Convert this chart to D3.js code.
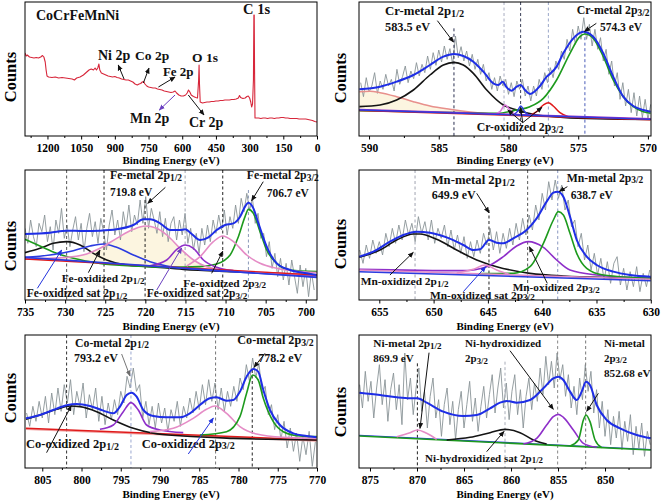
<!DOCTYPE html>
<html><head><meta charset="utf-8">
<script src="https://cdn.jsdelivr.net/npm/d3@7"></script>
<style>body{margin:0;background:#fff}svg{display:block}</style>
</head><body><svg id="c" width="661" height="503"></svg>
<script>
// ---------------- DATA ----------------
// Survey spectrum [binding energy eV, counts]
const surveyData = [[1300,83],[1295,80],[1290,81],[1280,79],[1270,78.5],[1260,78],[1250,78.5],[1240,78],[1230,79],[1222,80.5],[1216,79],[1210,74],[1206,66],[1202,60],[1195,59],[1180,58.5],[1165,59],[1150,58],[1135,58.5],[1120,58],[1105,57.5],[1090,57],[1080,56],[1070,58],[1055,59],[1040,61],[1025,64],[1015,66],[1005,67],[995,66],[988,68],[982,66],[976,68],[971,72],[967,66],[960,63],[950,62],[940,61],[930,60],[920,59.5],[910,59],[900,59.5],[890,58.5],[880,58],[870,57],[860,56.5],[850,56],[840,56],[830,55],[820,54],[810,52],[800,51],[792,52],[785,52.5],[778,54],[772,54.5],[766,52],[758,50],[750,49],[740,48.5],[730,48],[720,48],[710,47],[700,46.5],[690,46],[680,45],[670,44.5],[660,44],[650,43.5],[640,44],[632,45],[625,43],[615,41],[605,40],[595,40],[585,41],[578,43],[572,46],[566,44],[560,41],[550,39.5],[540,38.5],[532,38],[527,56],[525,71],[523,51],[520,34],[510,33],[500,33.5],[490,34],[480,34],[470,34.5],[460,34.5],[450,35],[440,35],[430,35.5],[420,35.5],[410,36],[400,36],[390,36],[380,36.5],[370,36.5],[360,37],[350,38],[345,40.5],[340,38.5],[330,37.5],[320,38],[312,39.5],[306,40],[300,38],[295,34],[291,29],[287,32],[283,56],[281,121],[279.5,121],[278,66],[276,18],[270,18],[260,18],[250,17.5],[240,18],[230,18],[220,17.5],[210,18],[200,18],[190,17.5],[180,18],[170,18],[160,18.5],[150,18.5],[140,18],[130,18],[120,17.5],[110,17.5],[100,17.5],[90,17.5],[80,17],[70,17],[60,17],[50,17],[40,16.5],[30,16],[20,15.5],[10,14.5],[0,14]];
const surveyTicks = [1200,1050,900,750,600,450,300,150,0];
const surveyMinor = [1275,1125,975,825,675,525,375,225,75];

// Cr 2p
const crRawStart = 590.6, crRawStep = 0.2;
const crRaw = [160,118,175,132,150,190,128,165,140,185,
 150,170,135,200,155,178,210,160,195,172,
 220,180,215,190,240,200,250,212,258,222,
 270,230,262,215,300,235,268,225,255,210,
 245,200,230,185,215,165,190,140,175,135,
 180,150,170,125,160,118,165,140,170,120,
 150,105,150,120,170,140,190,160,205,175,
 225,200,255,230,290,255,320,275,330,290,
 355,290,335,270,320,260,295,225,260,185,
 225,150,190,110,160,90,140,70,130,60,
 120,55,110,50,95];
const crEnvelope = [[590.69,140],[589.21,148],[588.02,163],[586.82,183],[585.63,213],[584.67,238],[583.91,246],[583.24,240],[582.52,223],[581.80,193],[581.09,158],[580.73,153],[580.42,163],[580.13,146],[579.77,136],[579.41,148],[579.13,153],[578.82,138],[578.46,126],[577.74,150],[577.26,178],[577.03,186],[576.55,208],[576.07,248],[575.35,293],[574.64,313],[573.92,298],[573.20,248],[572.49,178],[571.77,118],[571.05,90],[570.33,78],[569.81,73]];
const crMetal12 = [[590.69,88],[589.21,93],[588.02,108],[586.82,138],[585.63,183],[584.67,213],[583.91,221],[583.24,213],[582.52,188],[581.56,138],[580.37,93],[579.41,78],[577.98,63],[576.07,56],[573.68,52],[569.81,50]];
const crMetal32 = [[590.69,76],[585.63,72],[580.85,68],[579.41,78],[578.46,88],[577.50,113],[576.55,168],[575.59,248],[574.88,298],[574.52,306],[573.92,293],[573.20,238],[572.49,168],[571.77,118],[571.05,88],[570.33,73],[569.81,68]];
const crSat = [[590.69,133],[589.93,134],[589.21,130],[588.02,118],[586.82,103],[585.63,90],[584.20,80],[582.76,72],[580.85,65],[578.46,61],[576.07,58],[569.81,50]];
const crOxA = [[580.97,65],[580.61,73],[580.25,93],[579.89,78],[579.53,63]];
const crOxB = [[579.65,63],[579.37,73],[579.13,90],[578.82,72],[578.50,62]];
const crOxC = [[578.46,62],[577.98,73],[577.50,93],[577.14,100],[576.79,90],[576.31,70],[575.71,58]];
const crBackground = [[590.69,78],[569.81,50]];
const crPeakLines = [583.91,580.32,579.13,577.14,574.52];
const crPeakTops = [323,402,402,402,313];
const crTicks = [590,585,580,575,570];
const crMinor = [587.5,582.5,577.5,572.5];

// Fe 2p
const feRawStart = 735.0, feRawStep = 0.35;
const feRaw = [215,170,240,190,160,230,205,255,175,220,
 150,240,200,275,185,225,160,210,250,180,
 230,145,215,260,190,235,170,245,205,150,
 225,270,195,240,180,265,215,285,205,255,
 225,300,230,310,215,275,240,200,265,190,
 245,175,230,250,180,240,195,260,170,215,
 150,200,140,215,165,225,175,240,200,255,
 210,270,195,250,215,285,230,305,265,320,
 270,305,230,260,185,200,130,175,95,140,
 70,125,60,110,45,120,70,20,105,40,
 95,10,85,30];
const feEnvelope = [[735.0,198],[731.88,202],[729.81,208],[727.72,207],[725.65,208],[723.57,212],[721.49,225],[720.24,242],[719.41,242],[718.16,230],[716.92,210],[715.66,210],[715.04,212],[714.21,198],[713.18,180],[712.14,188],[711.10,210],[710.06,225],[709.02,230],[708.19,250],[707.57,280],[707.15,292],[706.53,275],[705.90,230],[704.87,160],[703.62,110],[701.96,90],[699.88,80],[698.63,75]];
const feSat12 = [[735.0,142],[733.13,155],[731.47,170],[729.81,175],[728.14,165],[726.48,140],[724.81,120],[722.32,105],[719.41,100],[715.25,92],[709.02,85],[698.63,75]];
const feMetal32 = [[735.0,182],[733.13,162],[731.05,140],[728.97,125],[725.65,110],[721.49,102],[717.33,98],[713.18,100],[711.10,108],[709.43,135],[708.40,190],[707.57,250],[707.15,272],[706.53,260],[705.70,205],[704.87,150],[703.62,110],[701.96,90],[698.63,85]];
const feOx12 = [[735.0,128],[731.88,135],[728.97,148],[726.89,162],[725.23,168],[723.57,158],[721.49,135],[719.41,115],[717.33,102],[713.18,92],[709.02,85],[698.63,72]];
const feMetal12 = [[735.0,123],[729.81,128],[727.31,138],[725.65,155],[723.57,185],[721.49,212],[720.03,222],[718.58,215],[717.33,195],[715.66,155],[714.00,120],[712.35,100],[709.85,90],[704.87,82],[698.63,75]];
const feSat32 = [[719.41,103],[717.33,120],[716.08,152],[715.04,165],[714.00,155],[712.76,120],[711.10,98],[709.02,88]];
const feOx32 = [[714.84,102],[713.18,130],[711.52,175],[710.35,192],[709.02,175],[707.36,135],[705.70,110],[703.62,95],[700.71,85],[698.63,82]];
const feBackgroundA = [[735.0,128],[698.63,68]];
const feBackgroundB = [[735.0,123],[698.63,75]];
const fePeakLines = [729.81,725.15,720.03,715.04,710.35,707.15];
const fePeakTops = [390,390,300,390,390,330];
const feTicks = [735,730,725,720,715,710,705,700];
const feMinor = [732.5,727.5,722.5,717.5,712.5,707.5,702.5];

// Mn 2p
const mnRawStart = 656.8, mnRawStep = 0.3;
const mnRaw = [150,110,165,125,180,140,175,135,200,160,
 215,170,225,180,240,195,230,175,250,200,
 235,180,240,170,215,185,225,160,210,150,
 195,140,190,125,175,130,180,140,200,165,
 215,150,205,140,200,155,215,165,230,180,
 245,195,255,210,285,240,320,270,355,300,
 360,305,345,270,300,220,240,160,200,120,
 165,90,140,75,125,60,115,50,110,130,
 45,95,30,85,40,100,25,80,40,90];
const mnEnvelope = [[656.84,130],[655.55,145],[654.02,175],[652.79,195],[651.56,205],[650.33,202],[648.80,188],[647.26,165],[646.34,150],[645.73,152],[644.90,180],[644.19,172],[643.58,170],[642.66,185],[641.43,210],[640.51,245],[639.59,295],[638.97,322],[638.57,325],[638.05,310],[637.44,250],[636.82,180],[635.90,130],[634.98,105],[633.45,85],[631.91,75],[630.01,70]];
const mnOx12 = [[656.84,128],[654.94,150],[653.40,180],[651.87,198],[651.25,198],[649.72,182],[647.88,150],[646.03,120],[644.19,100],[641.12,80],[638.05,72],[630.01,65]];
const mnOx32 = [[656.84,92],[647.26,88],[645.11,100],[643.58,130],[642.35,162],[641.28,175],[639.89,158],[638.67,120],[637.44,90],[634.98,75],[630.01,65]];
const mnMetal32 = [[645.73,79],[642.66,80],[641.12,100],[639.89,170],[638.97,240],[638.51,265],[638.05,255],[637.44,200],[636.82,140],[635.90,95],[634.37,75],[630.01,65]];
const mnSat32 = [[647.88,81],[646.34,92],[645.27,105],[644.19,90],[642.96,76]];
const mnBackgroundA = [[656.84,90],[630.01,62]];
const mnBackgroundB = [[656.84,85],[630.01,58]];
const mnPeakLines = [651.71,644.90,641.34,638.57];
const mnPeakTops = [390,270,390,390];
const mnTicks = [655,650,645,640,635,630];
const mnMinor = [652.5,647.5,642.5,637.5,632.5];

// Co 2p
const coRawStart = 807.0, coRawStep = 0.4;
const coRaw = [165,125,185,140,200,150,215,135,225,160,
 240,170,250,195,265,160,230,185,255,150,
 220,175,240,140,215,130,195,145,205,160,
 230,195,275,240,300,230,250,150,200,130,
 185,120,195,135,180,110,175,140,200,125,
 185,150,210,165,230,175,250,190,265,200,
 255,175,240,170,230,185,245,200,270,235,
 310,260,330,270,315,225,245,160,190,115,
 160,85,140,60,120,50,105,20,95,40,
 110,5,80];
const coEnvelope = [[807.08,149],[805.29,159],[803.60,174],[801.90,188],[800.62,192],[798.92,186],[797.22,172],[795.95,164],[795.10,184],[794.25,219],[793.62,226],[792.98,214],[792.13,174],[790.86,156],[789.16,152],[787.46,152],[786.19,164],[784.92,189],[783.65,209],[782.79,212],[781.52,202],[780.67,204],[779.82,229],[778.97,274],[778.12,297],[777.49,289],[776.84,234],[775.99,174],[774.72,129],[773.02,104],[771.32,96],[770.05,92]];
const coOx12 = [[807.08,146],[805.29,159],[803.17,176],[801.47,186],[800.20,184],[798.07,169],[795.95,144],[793.40,119],[790.86,104],[787.04,96],[780.67,89],[770.05,84]];
const coMetal12 = [[797.65,116],[795.95,129],[794.68,169],[793.70,196],[792.77,174],[791.71,129],[790.01,114],[787.04,106]];
const coOx32 = [[791.28,109],[788.31,119],[785.77,149],[784.07,176],[783.01,186],[781.52,164],[779.82,124],[777.70,102],[774.29,92],[770.05,89]];
const coMetal32 = [[784.92,99],[781.52,109],[779.82,154],[778.97,224],[778.20,279],[777.49,264],[776.84,209],[775.57,139],[774.29,109],[772.17,96],[770.05,94]];
const coBackgroundA = [[807.08,119],[770.05,84]];
const coBackgroundB = [[807.08,116],[770.05,81]];
const coPeakLines = [801.90,793.70,782.92,778.25];
const coPeakTops = [399,399,399,294];
const coTicks = [805,800,795,790,785,780,775,770];
const coMinor = [802.5,797.5,792.5,787.5,782.5,777.5,772.5];

// Ni 2p
const niRawStart = 876.1, niRawStep = 0.3;
const niRaw = [250,180,290,200,260,150,240,310,190,265,
 140,235,285,175,250,130,345,205,270,160,
 240,300,170,230,120,215,270,150,205,95,
 190,240,130,200,85,175,230,120,190,260,
 140,210,110,185,245,150,220,280,165,240,
 300,180,255,145,230,280,160,235,120,215,
 270,175,255,200,300,220,335,250,320,240,
 345,265,310,215,280,180,245,160,270,205,
 310,230,290,165,235,120,200,95,175,70,
 155,90,170,55,140,80,160,40,125,60,
 135,35,110,70];
const niEnvelope = [[876.13,226],[873.94,219],[872.16,212],[870.74,209],[869.96,209],[868.97,196],[867.20,169],[865.07,156],[863.65,159],[862.23,179],[861.17,196],[860.46,201],[859.40,196],[857.98,204],[856.56,239],[855.50,269],[854.96,274],[854.43,264],[853.72,229],[853.01,204],[852.48,229],[852.02,259],[851.60,249],[850.89,189],[849.82,144],[848.40,119],[846.63,99],[845.14,89]];
const niMetal12 = [[872.16,94],[870.74,106],[869.96,114],[868.97,104],[867.91,86]];
const niSat12 = [[866.84,84],[864.36,92],[862.23,106],[860.64,116],[859.04,106],[857.62,84],[856.21,72]];
const niHyd32 = [[858.69,72],[857.27,89],[856.21,129],[855.50,154],[854.96,161],[854.43,152],[853.37,114],[852.30,74],[850.89,62]];
const niMetal32 = [[853.72,66],[852.84,84],[852.30,144],[852.02,159],[851.60,139],[851.06,84],[850.35,61]];
const niBackgroundA = [[876.13,96],[845.14,54]];
const niBackgroundB = [[876.13,98],[845.14,55]];
const niPeakLines = [869.96,860.64,855.04,852.06];
const niPeakTops = [314,319,399,399];
const niTicks = [875,870,865,860,855,850];
const niMinor = [872.5,867.5,862.5,857.5,852.5,847.5];

// ---------------- DRAWING ----------------
const svg = d3.select("#c");
svg.append("rect").attr("width",661).attr("height",503).attr("fill","#fff");
const defs = svg.append("defs");
const FONT = "'Liberation Serif','Times New Roman',serif";
const C = {env:"#1e2ee6", black:"#141414", green:"#1d9a1d", pink:"#e58cc6", salmon:"#e8908c",
  purple:"#8e2fc9", red:"#e01a1a", blue:"#2b3be0", raw:"#8a9497", fill:"#fcf5e0"};

function marker(id, color){
  defs.append("marker").attr("id",id).attr("viewBox","0 0 10 10").attr("refX",9).attr("refY",5)
    .attr("markerWidth",6).attr("markerHeight",6).attr("orient","auto")
    .append("path").attr("d","M0,0.8 L10,5 L0,9.2 Z").attr("fill",color);
}
marker("ah-k","#111"); marker("ah-b","#2233dd"); marker("ah-g","#6e6e6e"); marker("ah-p","#6a3fc0");

function makePanel(cfg){
  const x = d3.scaleLinear().domain(cfg.xDomain).range([cfg.left, cfg.right]);
  const y = d3.scaleLinear().domain(cfg.yDomain).range([cfg.bottom, cfg.top]);
  const id = "clip-"+cfg.id;
  defs.append("clipPath").attr("id",id).append("rect")
    .attr("x",cfg.left).attr("y",cfg.top).attr("width",cfg.right-cfg.left).attr("height",cfg.bottom-cfg.top);
  const g = svg.append("g");
  const plot = g.append("g").attr("clip-path",`url(#${id})`);
  const minor = d3.axisBottom(x).tickValues(cfg.minor).tickSize(2).tickFormat("");
  const major = d3.axisBottom(x).tickValues(cfg.ticks).tickSize(3.5).tickPadding(cfg.pad).tickFormat(d3.format("d"));
  const a1 = g.append("g").attr("transform",`translate(0,${cfg.bottom})`).call(minor);
  const a2 = g.append("g").attr("transform",`translate(0,${cfg.bottom})`).call(major);
  [a1,a2].forEach(a=>{a.select(".domain").remove(); a.selectAll("line").attr("stroke","#000");});
  a2.selectAll("text").attr("font-family",FONT).attr("font-weight","bold").attr("font-size",11.5).attr("fill","#000");
  g.append("rect").attr("x",cfg.left).attr("y",cfg.top).attr("width",cfg.right-cfg.left).attr("height",cfg.bottom-cfg.top)
    .attr("fill","none").attr("stroke","#000").attr("stroke-width",1);
  g.append("text").attr("x",(cfg.left+cfg.right)/2).attr("y",cfg.bottom+cfg.titleOffset).attr("text-anchor","middle")
    .attr("font-family",FONT).attr("font-weight","bold").attr("font-size",11).text("Binding Energy (eV)");
  g.append("text").attr("transform",`translate(${cfg.countsX},${cfg.countsY}) rotate(-90)`).attr("text-anchor","middle")
    .attr("font-family",FONT).attr("font-weight","bold").attr("font-size",16.5).text("Counts");
  const ann = g.append("g");
  return {x,y,plot,ann};
}

function line(P, data, color, width, curve){
  const gen = d3.line().x(d=>P.x(d[0])).y(d=>P.y(d[1])).curve(curve||d3.curveMonotoneX);
  P.plot.append("path").attr("d",gen(data)).attr("fill","none").attr("stroke",color)
    .attr("stroke-width",width).attr("stroke-linejoin","round");
}
function fillBetween(P, curve, base, color){
  const top = d3.line().x(d=>P.x(d[0])).y(d=>P.y(d[1])).curve(d3.curveMonotoneX)(curve);
  const bot = d3.line().x(d=>P.x(d[0])).y(d=>P.y(d[1]))(base.slice().reverse());
  P.plot.append("path").attr("d",top+bot.replace(/^M/,"L")+"Z").attr("fill",color).attr("stroke","none");
}
function raw(P, start, step, values){
  line(P, values.map((v,i)=>[start-i*step, v]), C.raw, 0.9, d3.curveLinear);
}
function peakLines(P, pos, tops, colors){
  pos.forEach((p,i)=>{
    P.plot.append("line").attr("x1",P.x(p)).attr("x2",P.x(p)).attr("y1",P.y(tops[i])).attr("y2",P.y(0))
      .attr("stroke",colors[i]).attr("stroke-width",1).attr("stroke-dasharray","3,2.5");
  });
}
function label(P, e, c, str, size, color){
  const parts = str.split("_");
  const t = P.ann.append("text").attr("x",P.x(e)).attr("y",P.y(c)).attr("font-family",FONT)
    .attr("font-weight","bold").attr("font-size",size).attr("fill",color||"#111");
  t.append("tspan").text(parts[0]);
  if(parts[1]) t.append("tspan").attr("font-size",size*0.8).attr("dy",size*0.14).text(parts[1]);
}
function arrow(P, from, to, m, color){
  P.ann.append("line").attr("x1",P.x(from[0])).attr("y1",P.y(from[1])).attr("x2",P.x(to[0])).attr("y2",P.y(to[1]))
    .attr("stroke",color||"#111").attr("stroke-width",1).attr("marker-end",`url(#ah-${m||"k"})`);
}

// ---- Panel 1: survey
const P1 = makePanel({id:"s",left:25,right:317,top:2,bottom:136,xDomain:[1300,0],yDomain:[0,134],
  ticks:surveyTicks,minor:surveyMinor,pad:4,titleOffset:28,countsX:16,countsY:77});
line(P1, surveyData, "#d7263a", 1.1, d3.curveLinear);
label(P1,1251,116,"CoCrFeMnNi",14);
label(P1,329,122,"C 1s",14.5);
label(P1,556,74.5,"O 1s",13.5);
label(P1,975,76,"Ni 2p",14);
label(P1,810,76,"Co 2p",13.5);
label(P1,686,60,"Fe 2p",13);
label(P1,832,13,"Mn 2p",14);
label(P1,570,8.7,"Cr 2p",14);
arrow(P1,[859,57],[885,71]);
arrow(P1,[773,53],[748,68]);
arrow(P1,[706,49],[632,59]);
arrow(P1,[632,41],[702,26],"p","#6a3fc0");
arrow(P1,[573,41],[503,21]);

// ---- Panel 2: Cr
const P2 = makePanel({id:"cr",left:359,right:651,top:2,bottom:136,xDomain:[590.72,569.78],yDomain:[0,402],
  ticks:crTicks,minor:crMinor,pad:4,titleOffset:28,countsX:346,countsY:78});
fillBetween(P2, crSat, crBackground, C.fill);
raw(P2, crRawStart, crRawStep, crRaw);
peakLines(P2, crPeakLines, crPeakTops, ["#2a2f50","#a8adc0","#3a3f58","#9aa6c8","#4a5db8"]);
line(P2, crSat, C.salmon, 1.5);
line(P2, crMetal12, C.black, 1.6);
line(P2, crMetal32, C.green, 1.6);
line(P2, crOxA, "#d878d8", 1.5);
line(P2, crOxB, C.blue, 1.5);
line(P2, crOxC, C.red, 1.5);
line(P2, crBackground.map(d=>[d[0],d[1]-1.5]), C.red, 1.3, d3.curveLinear);
line(P2, crBackground.map(d=>[d[0],d[1]+2]), C.purple, 1.3, d3.curveLinear);
line(P2, crBackground, C.blue, 1.4, d3.curveLinear);
line(P2, crEnvelope, C.env, 2);
label(P2,588.85,363,"Cr-metal 2p_1/2",12.8);
label(P2,588.85,315,"583.5 eV",12.3);
arrow(P2,[585.1,346],[583.95,282]);
label(P2,575.11,366,"Cr-metal 2p_3/2",11.8);
label(P2,573.44,316,"574.3 eV",11.5);
arrow(P2,[573.7,338],[574.55,314]);
label(P2,582.28,15,"Cr-oxidized 2p_3/2",11.8);
arrow(P2,[578.98,40],[580.05,78]);
arrow(P2,[578.98,40],[579.13,85]);
arrow(P2,[578.98,40],[577.6,86]);

// ---- Panel 3: Fe
const P3 = makePanel({id:"fe",left:25,right:317,top:170,bottom:300,xDomain:[735,698.6],yDomain:[0,390],
  ticks:feTicks,minor:feMinor,pad:4.5,titleOffset:30,countsX:16,countsY:246});
fillBetween(P3, feMetal12, feBackgroundB, C.fill);
raw(P3, feRawStart, feRawStep, feRaw);
peakLines(P3, fePeakLines, fePeakTops, ["#555","#222","#222","#a0a4b0","#222","#8a98b8"]);
line(P3, feSat12, C.black, 1.6);
line(P3, feMetal32, C.green, 1.6);
line(P3, feOx12, C.blue, 1.6);
line(P3, feMetal12, C.pink, 1.6);
line(P3, feSat32, C.purple, 1.6);
line(P3, feOx32, C.pink, 1.6);
line(P3, feBackgroundB, C.red, 1.3, d3.curveLinear);
line(P3, feBackgroundA, C.blue, 1.6, d3.curveLinear);
line(P3, feEnvelope, C.env, 2);
label(P3,724.4,362,"Fe-metal 2p_1/2",11.8);
label(P3,724.4,312,"719.8 eV",11.5);
arrow(P3,[717.5,338],[719.7,290]);
label(P3,707.36,362,"Fe-metal 2p_3/2",11.8);
label(P3,704.87,310,"706.7 eV",11.5);
arrow(P3,[705.3,355],[706.75,298]);
label(P3,730.43,53,"Fe-oxidized 2p_1/2",11.4);
label(P3,734.79,8,"Fe-oxidized sat 2p_1/2",11.5);
label(P3,715.26,40,"Fe-oxidized 2p_3/2",11.4);
label(P3,719.83,8,"Fe-oxidized sat 2p_3/2",11.5);
arrow(P3,[733.46,35],[730.43,150],"b","#2233dd");
arrow(P3,[727.1,82],[725.65,150]);
arrow(P3,[718.58,30],[715.47,156],"p","#6a3fc0");
arrow(P3,[711.73,80],[710.35,146]);

// ---- Panel 4: Mn
const P4 = makePanel({id:"mn",left:359,right:651,top:170,bottom:300,xDomain:[656.87,629.98],yDomain:[0,390],
  ticks:mnTicks,minor:mnMinor,pad:4.5,titleOffset:30,countsX:346,countsY:244});
raw(P4, mnRawStart, mnRawStep, mnRaw);
peakLines(P4, mnPeakLines, mnPeakTops, ["#a0a4b0","#222","#555","#8a98c0"]);
line(P4, mnOx12, C.black, 1.6);
line(P4, mnOx32, C.purple, 1.6);
line(P4, mnMetal32, C.green, 1.6);
line(P4, mnSat32, C.pink, 1.6);
line(P4, mnBackgroundA, C.pink, 1.5, d3.curveLinear);
line(P4, mnBackgroundB, C.blue, 1.5, d3.curveLinear);
line(P4, mnEnvelope, C.env, 2);
label(P4,650.18,348,"Mn-metal 2p_1/2",12.7);
label(P4,650.18,302,"649.9 eV",12);
arrow(P4,[646.03,320],[644.9,262]);
label(P4,637.74,355,"Mn-metal 2p_3/2",11.7);
label(P4,637.38,304,"638.7 eV",11.5);
arrow(P4,[637.68,340],[638.42,326]);
label(P4,656.72,44,"Mn-oxidized 2p_1/2",11.4);
label(P4,642.72,27,"Mn-oxidized 2p_3/2",11.3);
label(P4,650.33,4,"Mn-oxidized sat 2p_3/2",11.4);
arrow(P4,[654.02,75],[651.87,143]);
arrow(P4,[647.26,25],[645.2,100],"b","#2233dd");
arrow(P4,[639.53,50],[641.18,160]);

// ---- Panel 5: Co
const P5 = makePanel({id:"co",left:25,right:317,top:335,bottom:468,xDomain:[807.2,770],yDomain:[0,399],
  ticks:coTicks,minor:coMinor,pad:4.5,titleOffset:30,countsX:16,countsY:398});
raw(P5, coRawStart, coRawStep, coRaw);
peakLines(P5, coPeakLines, coPeakTops, ["#333","#9aa8d0","#777","#222"]);
line(P5, coBackgroundB, "#f0a0a0", 1.5, d3.curveLinear);
line(P5, coBackgroundA, C.red, 1.5, d3.curveLinear);
line(P5, coOx12, C.black, 1.6);
line(P5, coMetal12, C.purple, 1.6);
line(P5, coOx32, C.pink, 1.6);
line(P5, coMetal32, C.green, 1.6);
line(P5, coEnvelope, C.env, 2);
label(P5,800.83,364,"Co-metal 2p_1/2",11.8);
label(P5,800.96,318,"793.2 eV",12);
arrow(P5,[794.89,342],[793.83,276],"g","#777");
label(P5,780.16,372,"Co-metal 2p_3/2",12.2);
label(P5,777.48,318,"778.2 eV",12);
arrow(P5,[776.63,344],[778.03,302]);
label(P5,807.08,59,"Co-oxidized 2p_1/2",12.5);
label(P5,792.34,61,"Co-oxidized 2p_3/2",12.5);
arrow(P5,[804.45,46],[801.3,187]);
arrow(P5,[786.4,42],[783.2,150],"b","#2233dd");

// ---- Panel 6: Ni
const P6 = makePanel({id:"ni",left:359,right:651,top:335,bottom:468,xDomain:[876.17,845.11],yDomain:[0,399],
  ticks:niTicks,minor:niMinor,pad:4.5,titleOffset:30,countsX:346,countsY:412});
raw(P6, niRawStart, niRawStep, niRaw);
peakLines(P6, niPeakLines, niPeakTops, ["#222","#a8acb8","#888","#777"]);
line(P6, niBackgroundB, C.blue, 1.3, d3.curveLinear);
line(P6, niBackgroundA, C.green, 1.6, d3.curveLinear);
line(P6, niMetal12, C.pink, 1.6);
line(P6, niSat12, C.black, 1.6);
line(P6, niHyd32, C.purple, 1.6);
line(P6, niMetal32, C.green, 1.6);
line(P6, niEnvelope, C.env, 2);
label(P6,874.65,362,"Ni-metal 2p_1/2",11.3);
label(P6,874.65,317,"869.9 eV",11);
arrow(P6,[868.72,346],[869.68,119]);
label(P6,864.89,362,"Ni-hydroxidized",11);
label(P6,864.89,317,"2p_3/2",11);
arrow(P6,[860.11,352],[855.5,176]);
label(P6,850.11,364,"Ni-metal",11);
label(P6,850.11,319,"2p_3/2",11);
label(P6,850.11,274,"852.68 eV",11.2);
arrow(P6,[850.71,224],[851.95,170]);
label(P6,869.15,19,"Ni-hydroxidized sat 2p_1/2",11);
arrow(P6,[862.59,49],[860.74,110]);
</script></body></html>
